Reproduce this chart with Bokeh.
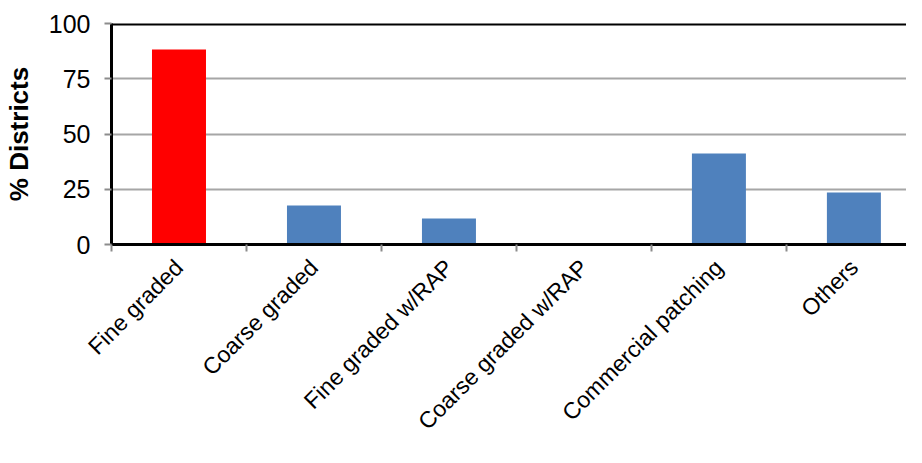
import numpy as np
from math import pi
from bokeh.plotting import figure
from bokeh.models import Range1d, FixedTicker, Span, ColumnDataSource
from bokeh.embed import file_html
from bokeh.resources import INLINE

categories = ["Fine graded", "Coarse graded", "Fine graded w/RAP",
              "Coarse graded w/RAP", "Commercial patching", "Others"]
pct_districts = [88.2, 17.6, 11.8, 0.0, 41.2, 23.5]
y_ticks = [0, 25, 50, 75, 100]
bar_colors = ["#ff0000", "#4f81bd", "#4f81bd", "#4f81bd", "#4f81bd", "#4f81bd"]

n = len(categories)
centers = [i + 0.5 for i in range(n)]
src = ColumnDataSource(dict(x=centers, top=pct_districts, color=bar_colors))

W, H = 906, 447
left, top, bottom = 105, 23, 244
cat_px = 136.0
x_end = (W - left) / cat_px

p = figure(width=W, height=H, output_backend="svg", toolbar_location=None,
           x_range=Range1d(0, x_end), y_range=Range1d(0, 100),
           min_border_left=left, min_border_right=0, min_border_top=top,
           min_border_bottom=H - bottom)
p.outline_line_color = None
p.background_fill_color = "white"
p.border_fill_color = "white"

p.vbar(x="x", top="top", width=0.4, color="color", line_color=None, source=src)

FONT = "Liberation Sans"

# y axis
p.yaxis.ticker = FixedTicker(ticks=y_ticks)
p.yaxis.axis_line_color = "black"
p.yaxis.axis_line_width = 3
p.yaxis.major_tick_out = 7
p.yaxis.major_tick_in = 0
p.yaxis.major_tick_line_color = "#8c8c8c"
p.yaxis.major_tick_line_width = 2
p.yaxis.minor_tick_line_color = None
p.yaxis.major_label_text_font = FONT
p.yaxis.major_label_text_font_size = "25px"
p.yaxis.major_label_text_color = "black"
p.yaxis.major_label_standoff = 14
p.yaxis.axis_label = "% Districts"
p.yaxis.axis_label_text_font = FONT
p.yaxis.axis_label_text_font_size = "26px"
p.yaxis.axis_label_text_font_style = "bold"
p.yaxis.axis_label_text_color = "black"
p.yaxis.axis_label_standoff = 12

# x axis
p.xaxis.ticker = FixedTicker(ticks=centers, minor_ticks=list(range(n + 1)))
p.xaxis.major_label_overrides = {c: lab for c, lab in zip(centers, categories)}
p.xaxis.axis_line_color = "black"
p.xaxis.axis_line_width = 3
p.xaxis.major_tick_line_color = None
p.xaxis.major_tick_out = 0
p.xaxis.major_tick_in = 0
p.xaxis.minor_tick_out = 7
p.xaxis.minor_tick_in = 0
p.xaxis.minor_tick_line_color = "#8c8c8c"
p.xaxis.minor_tick_line_width = 2
p.xaxis.major_label_orientation = pi / 4
p.xaxis.major_label_text_font = FONT
p.xaxis.major_label_text_font_size = "23px"
p.xaxis.major_label_text_color = "black"
p.xaxis.major_label_standoff = 12

# grid
p.xgrid.grid_line_color = None
p.ygrid.ticker = FixedTicker(ticks=y_ticks[1:-1])
p.ygrid.grid_line_color = "#a6a6a6"
p.ygrid.grid_line_width = 2

p.add_layout(Span(location=100, dimension="width", line_color="black", line_width=4))

open("out.html", "w").write(file_html(p, INLINE))
